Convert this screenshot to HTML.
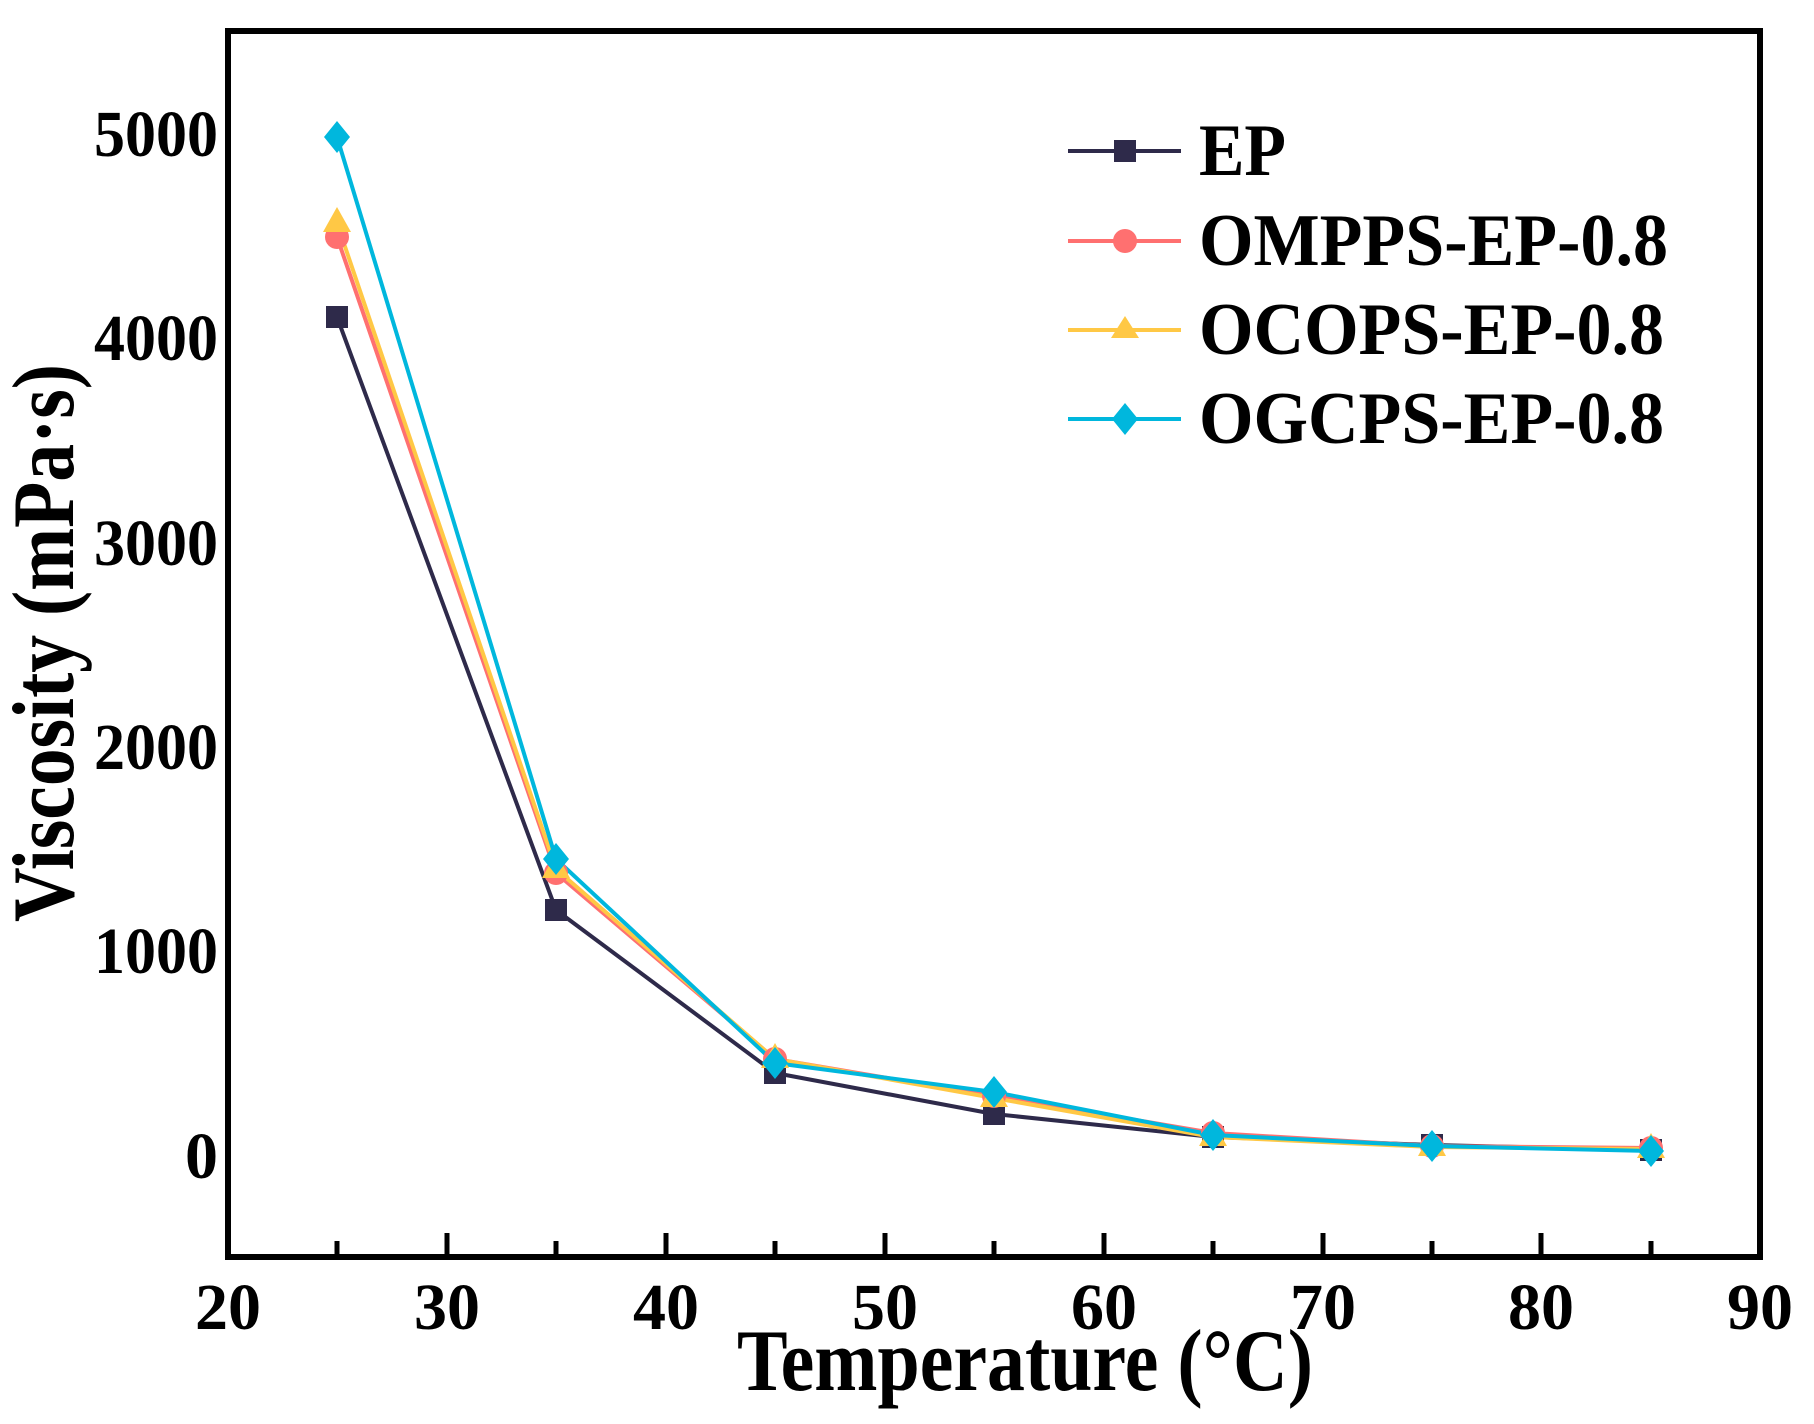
<!DOCTYPE html>
<html><head><meta charset="utf-8"><style>body{margin:0;background:#fff}svg{display:block}</style></head><body>
<svg width="1814" height="1424" viewBox="0 0 1814 1424" xmlns="http://www.w3.org/2000/svg" font-family="'Liberation Serif',serif" font-weight="bold">
<rect x="228" y="31" width="1532" height="1226" fill="none" stroke="#000" stroke-width="6"/>
<g stroke="#000" stroke-width="5">
<line x1="337" y1="1257" x2="337" y2="1241"/><line x1="447" y1="1257" x2="447" y2="1233"/><line x1="556" y1="1257" x2="556" y2="1241"/><line x1="666" y1="1257" x2="666" y2="1233"/><line x1="775" y1="1257" x2="775" y2="1241"/><line x1="885" y1="1257" x2="885" y2="1233"/><line x1="994" y1="1257" x2="994" y2="1241"/><line x1="1104" y1="1257" x2="1104" y2="1233"/><line x1="1213" y1="1257" x2="1213" y2="1241"/><line x1="1323" y1="1257" x2="1323" y2="1233"/><line x1="1432" y1="1257" x2="1432" y2="1241"/><line x1="1541" y1="1257" x2="1541" y2="1233"/><line x1="1651" y1="1257" x2="1651" y2="1241"/>
</g>
<g font-size="66" text-anchor="middle">
<text x="228" y="1329">20</text><text x="447" y="1329">30</text><text x="666" y="1329">40</text><text x="885" y="1329">50</text><text x="1104" y="1329">60</text><text x="1323" y="1329">70</text><text x="1541" y="1329">80</text><text x="1760" y="1329">90</text>
</g>
<g font-size="66" text-anchor="end">
<text x="218" y="156" textLength="124" lengthAdjust="spacingAndGlyphs">5000</text>
<text x="218" y="360" textLength="124" lengthAdjust="spacingAndGlyphs">4000</text>
<text x="218" y="565" textLength="124" lengthAdjust="spacingAndGlyphs">3000</text>
<text x="218" y="769" textLength="124" lengthAdjust="spacingAndGlyphs">2000</text>
<text x="218" y="973" textLength="124" lengthAdjust="spacingAndGlyphs">1000</text>
<text x="218" y="1178">0</text>
</g>
<text x="1025" y="1390" font-size="88" text-anchor="middle" textLength="576" lengthAdjust="spacingAndGlyphs">Temperature (°C)</text>
<text transform="translate(73,643) rotate(-90)" font-size="88" text-anchor="middle" textLength="558" lengthAdjust="spacingAndGlyphs">Viscosity (mPa·s)</text>
<g fill="none" stroke-width="4" stroke-linejoin="round">
<polyline stroke="#2e2a4a" points="337,317 556,910 775,1073 994,1114 1213,1137 1432,1145 1651,1150"/>
<polyline stroke="#ff7070" points="337,237 556,873 775,1059 994,1096 1213,1133 1432,1146 1651,1148"/>
<polyline stroke="#ffc845" points="337,223 556,869 775,1059 994,1098 1213,1137 1432,1147 1651,1149"/>
<polyline stroke="#00b7dd" points="337,137 556,859 775,1063 994,1092 1213,1135 1432,1146 1651,1151"/>
</g>
<g fill="#2e2a4a">
<rect x="326" y="306" width="22" height="22"/><rect x="545" y="899" width="22" height="22"/><rect x="764" y="1062" width="22" height="22"/><rect x="983" y="1103" width="22" height="22"/><rect x="1202" y="1126" width="22" height="22"/><rect x="1421" y="1134" width="22" height="22"/><rect x="1640" y="1139" width="22" height="22"/>
</g>
<g fill="#ff7070">
<circle cx="337" cy="237" r="12"/><circle cx="556" cy="873" r="12"/><circle cx="775" cy="1059" r="12"/><circle cx="994" cy="1096" r="12"/><circle cx="1213" cy="1133" r="12"/><circle cx="1432" cy="1146" r="12"/><circle cx="1651" cy="1148" r="12"/>
</g>
<g fill="#ffc845">
<polygon points="337,207 351,232 323,232"/><polygon points="556,853 570,878 542,878"/><polygon points="775,1043 789,1068 761,1068"/><polygon points="994,1082 1008,1107 980,1107"/><polygon points="1213,1121 1227,1146 1199,1146"/><polygon points="1432,1131 1446,1156 1418,1156"/><polygon points="1651,1133 1665,1158 1637,1158"/>
</g>
<g fill="#00b7dd">
<polygon points="337,121 350,137 337,153 324,137"/><polygon points="556,843 569,859 556,875 543,859"/><polygon points="775,1047 788,1063 775,1079 762,1063"/><polygon points="994,1076 1007,1092 994,1108 981,1092"/><polygon points="1213,1119 1226,1135 1213,1151 1200,1135"/><polygon points="1432,1130 1445,1146 1432,1162 1419,1146"/><polygon points="1651,1135 1664,1151 1651,1167 1638,1151"/>
</g>
<g stroke-width="4">
<line x1="1068" y1="151" x2="1181" y2="151" stroke="#2e2a4a"/><rect x="1114" y="140" width="22" height="22" fill="#2e2a4a"/>
<line x1="1068" y1="241" x2="1181" y2="241" stroke="#ff7070"/><circle cx="1125" cy="241" r="12" fill="#ff7070"/>
<line x1="1068" y1="330" x2="1181" y2="330" stroke="#ffc845"/><polygon points="1125,316 1139,338 1111,338" fill="#ffc845"/>
<line x1="1068" y1="419" x2="1181" y2="419" stroke="#00b7dd"/><polygon points="1125,403 1138,419 1125,435 1112,419" fill="#00b7dd"/>
</g>
<g font-size="74">
<text x="1199" y="175" textLength="87" lengthAdjust="spacingAndGlyphs">EP</text>
<text x="1199" y="265" textLength="469" lengthAdjust="spacingAndGlyphs">OMPPS-EP-0.8</text>
<text x="1199" y="354" textLength="465" lengthAdjust="spacingAndGlyphs">OCOPS-EP-0.8</text>
<text x="1199" y="443" textLength="465" lengthAdjust="spacingAndGlyphs">OGCPS-EP-0.8</text>
</g>
</svg>
</body></html>
